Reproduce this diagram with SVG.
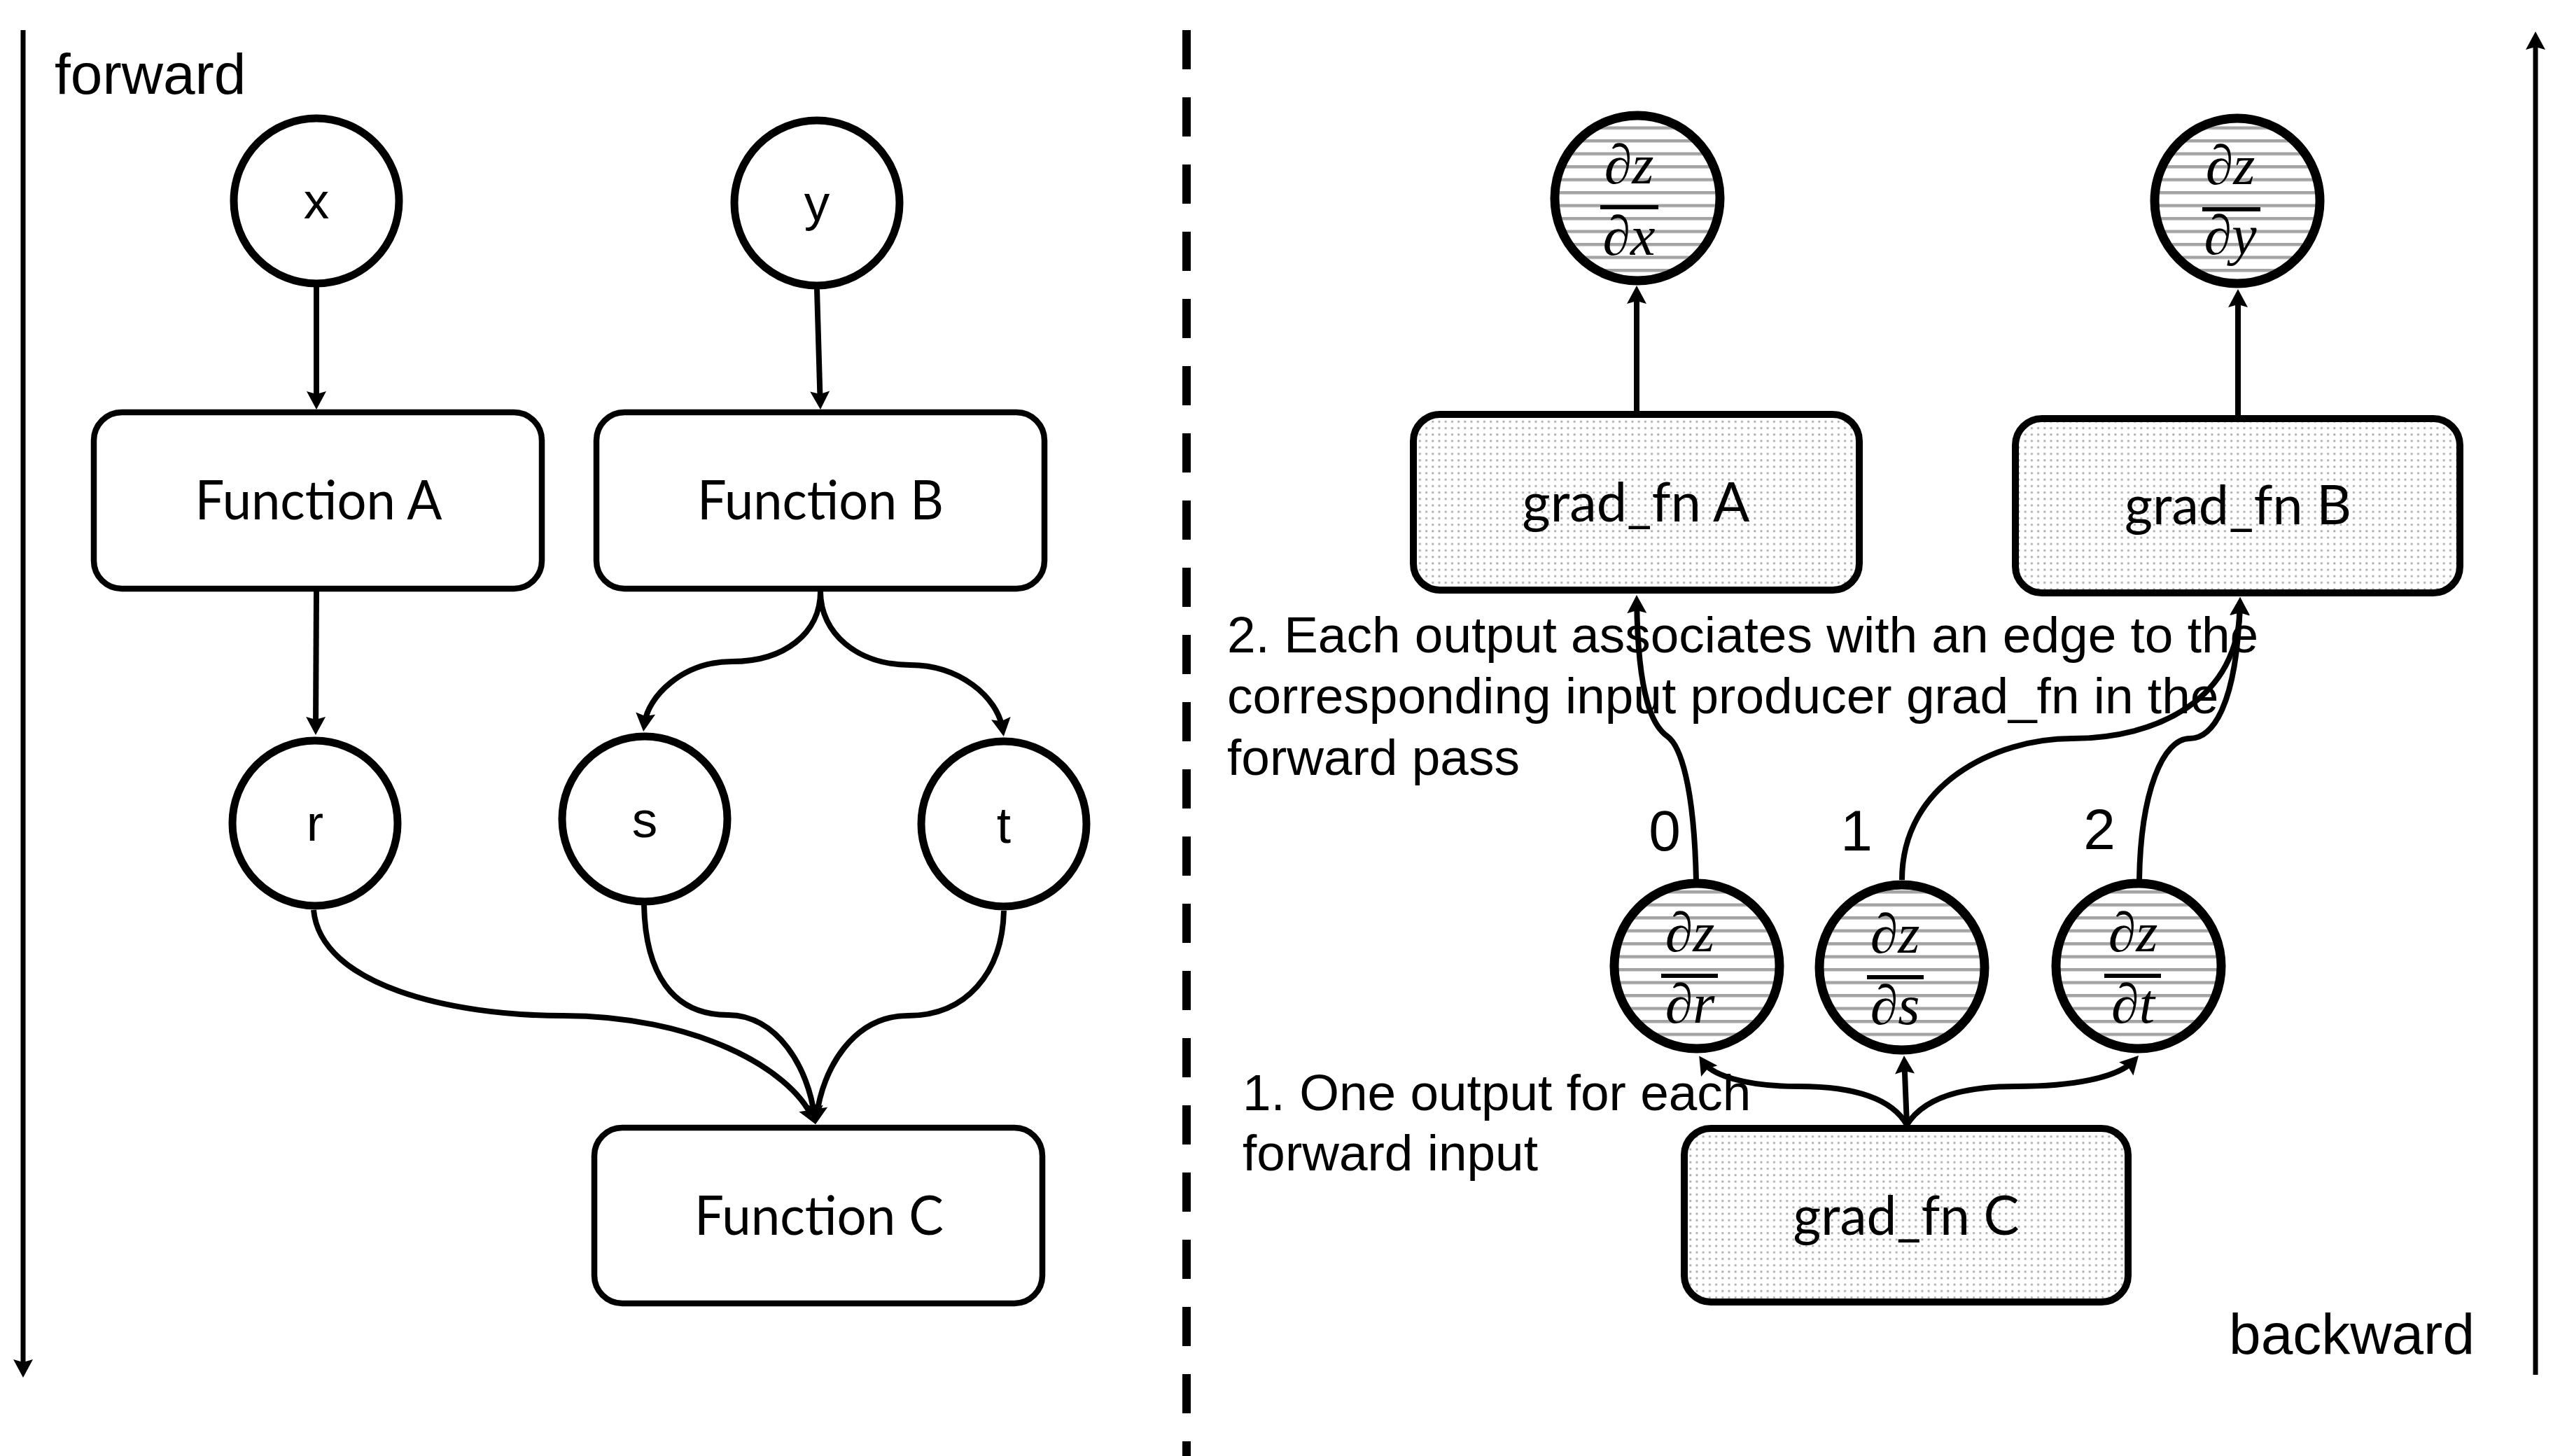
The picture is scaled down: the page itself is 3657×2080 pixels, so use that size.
<svg xmlns="http://www.w3.org/2000/svg" width="3657" height="2080" viewBox="0 0 3657 2080">
<defs>
<style>
.lbl{font-family:"Liberation Sans",Arial,sans-serif;fill:#000}
.box{fill:#fff;stroke:#000;stroke-width:8.5}
.gbox{fill:url(#dots);stroke:#000;stroke-width:10}
.node{fill:#fff;stroke:#000;stroke-width:11}
.gnode{fill:url(#hatch);stroke:#000;stroke-width:13}
.btxt{font-family:Lato,"Open Sans",sans-serif;font-size:77px;fill:#000;text-anchor:middle}
.ltr{font-family:"Liberation Sans",Arial,sans-serif;font-size:73px;fill:#000;text-anchor:middle}
.math{font-family:"Liberation Serif","DejaVu Serif",serif;font-style:italic;font-size:80px;fill:#000;text-anchor:middle}
.conn{fill:none;stroke:#000;stroke-width:8;marker-end:url(#ah)}
.axis{fill:none;stroke:#000;stroke-width:7}
</style>
<marker id="ah" markerUnits="userSpaceOnUse" viewBox="-20 -16 32 32" markerWidth="32" markerHeight="32" refX="0" refY="0" orient="auto">
<path d="M10,0 L-16,-14 L-12,0 L-16,14 Z" fill="#000"/>
</marker>
<pattern id="hatch" patternUnits="userSpaceOnUse" x="0" y="14" width="40" height="18.5">
<rect width="40" height="18.5" fill="#fff"/>
<rect width="40" height="4.5" fill="#a3a3a3"/>
</pattern>
<pattern id="dots" patternUnits="userSpaceOnUse" width="9.2" height="9.2">
<rect width="9.2" height="9.2" fill="#fff"/>
<rect x="3" y="3" width="2.8" height="2.8" fill="#a9a9a9"/>
</pattern>
</defs>
<rect width="3657" height="2080" fill="#fff"/>

<g id="axes">
<line class="axis" x1="33" y1="43" x2="33" y2="1958" marker-end="url(#ah)"/>
<line class="axis" x1="3622" y1="1964" x2="3622" y2="55" marker-end="url(#ah)"/>
<line x1="1695" y1="43" x2="1695" y2="2080" stroke="#000" stroke-width="12" stroke-dasharray="56 40"/>
<text class="lbl" x="78" y="134" font-size="82">forward</text>
<text class="lbl" x="3535" y="1934" font-size="82" text-anchor="end">backward</text>
</g>

<g id="connectors">
<path class="conn" d="M452,410 L452,575"/>
<path class="conn" d="M1167,413 L1171.7,575"/>
<path class="conn" d="M452,845 L451,1040"/>
<path class="conn" d="M1172,845 C1172,905 1120,945 1046,945 C975,945 925,995 920.3,1035"/>
<path class="conn" d="M1172,845 C1172,905 1225,950 1300,950 C1370,950 1425,995 1432.3,1042"/>
<path class="conn" d="M448,1300 C458,1408 645,1451 804,1451 C990,1451 1128,1525 1160.8,1597"/>
<path class="conn" d="M920,1293 C922,1390 960,1450 1040,1450 C1110,1450 1155,1525 1163.7,1596"/>
<path class="conn" d="M1434,1301 C1432,1390 1380,1451 1297,1451 C1220,1451 1175,1525 1166.3,1596"/>
<path class="conn" d="M2338,587 L2338,418"/>
<path class="conn" d="M3197,593 L3197,423"/>
<path class="conn" d="M2724,1607 C2700,1565 2640,1552 2570,1552 C2490,1552 2445,1535 2432.8,1516.8"/>
<path class="conn" d="M2724,1607 L2720.4,1518"/>
<path class="conn" d="M2724,1607 C2750,1565 2810,1552 2880,1552 C2960,1552 3025,1540 3048.2,1515.3"/>
<path class="conn" d="M2423,1258 C2420,1120 2400,1065 2382,1052 C2362,1038 2340,1000 2338.1,860"/>
<path class="conn" d="M2717,1257 C2717,1120 2850,1055 2960,1055 C3080,1055 3200,1000 3200,863"/>
<path class="conn" d="M3056,1257 C3058,1130 3090,1055 3128,1055 C3160,1055 3195,1010 3199.7,863"/>
</g>

<g id="node-x"><circle class="node" cx="452" cy="287" r="118"/><text class="ltr" x="452" y="312">x</text></g>
<g id="node-y"><circle class="node" cx="1167" cy="290" r="118"/><text class="ltr" x="1167" y="315">y</text></g>
<g id="node-fnA"><rect class="box" x="134" y="589" width="640" height="252" rx="40"/><text class="btxt" x="455" y="742" textLength="353" lengthAdjust="spacingAndGlyphs">Function A</text></g>
<g id="node-fnB"><rect class="box" x="852" y="589" width="640" height="252" rx="40"/><text class="btxt" x="1172" y="742" textLength="352" lengthAdjust="spacingAndGlyphs">Function B</text></g>
<g id="node-r"><circle class="node" cx="450" cy="1176" r="118"/><text class="ltr" x="450" y="1201">r</text></g>
<g id="node-s"><circle class="node" cx="921" cy="1170" r="118"/><text class="ltr" x="921" y="1196">s</text></g>
<g id="node-t"><circle class="node" cx="1434" cy="1177" r="118"/><text class="ltr" x="1434" y="1204">t</text></g>
<g id="node-fnC"><rect class="box" x="849" y="1611" width="640" height="251" rx="40"/><text class="btxt" x="1170" y="1764" textLength="356" lengthAdjust="spacingAndGlyphs">Function C</text></g>

<g id="node-dzdx"><circle class="gnode" cx="2339" cy="283" r="118"/>
<text class="math" x="2327" y="262">∂z</text><rect x="2286" y="293" width="83" height="6" fill="#000"/><text class="math" x="2327" y="364">∂x</text></g>
<g id="node-dzdy"><circle class="gnode" cx="3196" cy="287" r="118"/>
<text class="math" x="3186" y="263">∂z</text><rect x="3146" y="296" width="83" height="6" fill="#000"/><text class="math" x="3186" y="363">∂y</text></g>
<g id="node-gradA"><rect class="gbox" x="2019" y="592" width="637" height="251" rx="38"/><text class="btxt" x="2337" y="745" textLength="325" lengthAdjust="spacingAndGlyphs">grad_fn A</text></g>
<g id="node-gradB"><rect class="gbox" x="2879" y="598" width="635" height="249" rx="38"/><text class="btxt" x="3197" y="749" textLength="324" lengthAdjust="spacingAndGlyphs">grad_fn B</text></g>
<g id="node-dzdr"><circle class="gnode" cx="2424" cy="1380" r="118"/>
<text class="math" x="2414" y="1359">∂z</text><rect x="2373" y="1391" width="81" height="6" fill="#000"/><text class="math" x="2414" y="1461">∂r</text></g>
<g id="node-dzds"><circle class="gnode" cx="2717" cy="1382" r="118"/>
<text class="math" x="2707" y="1361">∂z</text><rect x="2667" y="1393" width="81" height="6" fill="#000"/><text class="math" x="2707" y="1463">∂s</text></g>
<g id="node-dzdt"><circle class="gnode" cx="3055" cy="1380" r="118"/>
<text class="math" x="3047" y="1359">∂z</text><rect x="3006" y="1391" width="81" height="6" fill="#000"/><text class="math" x="3047" y="1461">∂t</text></g>
<g id="node-gradC"><rect class="gbox" x="2406" y="1612" width="634" height="248" rx="38"/><text class="btxt" x="2723" y="1764" textLength="323" lengthAdjust="spacingAndGlyphs">grad_fn C</text></g>

<g id="labels">
<text class="lbl" font-size="82" x="2378" y="1215" text-anchor="middle">0</text>
<text class="lbl" font-size="82" x="2652" y="1215" text-anchor="middle">1</text>
<text class="lbl" font-size="82" x="2999" y="1213" text-anchor="middle">2</text>
<text class="lbl" font-size="73" x="1753" y="932">2. Each output associates with an edge to the</text>
<text class="lbl" font-size="73" x="1753" y="1019">corresponding input producer grad_fn in the</text>
<text class="lbl" font-size="73" x="1753" y="1107">forward pass</text>
<text class="lbl" font-size="73" x="1775" y="1586">1. One output for each</text>
<text class="lbl" font-size="73" x="1775" y="1672">forward input</text>
</g>
</svg>
